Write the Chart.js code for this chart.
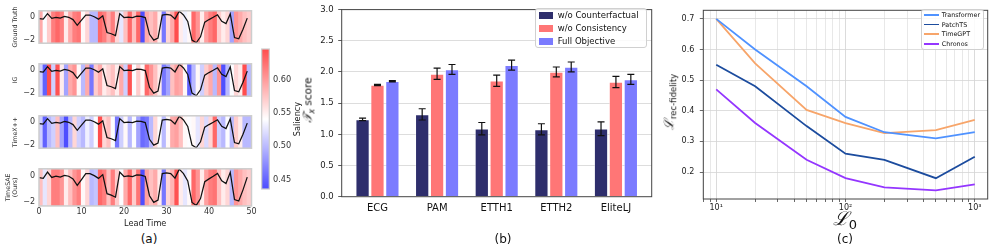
<!DOCTYPE html>
<html><head><meta charset="utf-8">
<script src="https://cdn.jsdelivr.net/npm/chart.js@4.4.1/dist/chart.umd.min.js"></script>
<style>
body{margin:0;width:996px;height:246px;background:#fff;position:relative;overflow:hidden;font-family:'DejaVu Sans',sans-serif}
canvas{position:absolute;display:block}
.t{position:absolute;white-space:nowrap;color:#111;line-height:1}
.rot{transform:translate(-50%,-50%) rotate(-90deg)}
.ctr{transform:translate(-50%,-50%)}
.leg{position:absolute;background:rgba(255,255,255,0.85);border:1px solid #d0d0d0;border-radius:3px;box-sizing:border-box}
.sw{position:absolute}
</style></head><body>
<script>
// ---------- Panel (a) data ----------
const leadTime = [0,1,2,3,4,5,6,7,8,9,10,11,12,13,14,15,16,17,18,19,20,21,22,23,24,25,26,27,28,29,30,31,32,33,34,35,36,37,38,39,40,41,42,43,44,45,46,47,48,49];
const leadTicks = [0,10,20,30,40,50];
const series = [-0.11,-0.16,0.32,-0.09,0.0,-0.07,0.07,0.0,-0.2,-0.7,
 -0.25,0.2,0.2,0.05,-0.16,0.13,-1.33,-1.44,-1.6,0.32,
 -0.02,0.02,-0.02,0.11,0.09,-0.02,-1.49,-2.0,-1.82,0.2,
 0.25,0.2,-0.14,0.54,0.2,-0.36,-2.0,-2.23,-1.71,-0.42,
 -0.2,0.0,0.22,-0.35,-0.55,0.3,-1.78,-1.89,-1.04,-0.07];
const salGroundTruth = [0.591,0.539,0.571,0.617,0.630,0.617,0.552,0.591,0.617,0.623,
 0.545,0.565,0.500,0.500,0.630,0.617,0.591,0.617,0.565,0.526,
 0.578,0.630,0.578,0.630,0.437,0.591,0.578,0.591,0.552,0.461,
 0.565,0.591,0.649,0.552,0.532,0.545,0.630,0.604,0.552,0.597,
 0.617,0.630,0.571,0.552,0.565,0.487,0.604,0.591,0.578,0.571];
const salIG = [0.513,0.448,0.656,0.513,0.643,0.552,0.487,0.591,0.604,0.545,
 0.500,0.591,0.461,0.571,0.591,0.552,0.565,0.578,0.552,0.591,
 0.513,0.643,0.539,0.571,0.545,0.630,0.604,0.578,0.552,0.461,
 0.487,0.578,0.597,0.591,0.545,0.448,0.500,0.545,0.513,0.571,
 0.591,0.500,0.604,0.438,0.500,0.539,0.565,0.552,0.649,0.500];
const salTimeXpp = [0.513,0.448,0.500,0.513,0.578,0.487,0.437,0.500,0.565,0.513,
 0.500,0.532,0.513,0.539,0.646,0.565,0.578,0.539,0.461,0.513,
 0.545,0.500,0.539,0.487,0.454,0.461,0.500,0.565,0.539,0.500,
 0.545,0.591,0.597,0.578,0.545,0.539,0.545,0.526,0.565,0.519,
 0.565,0.630,0.513,0.500,0.539,0.500,0.571,0.552,0.500,0.500];
const salTimeSAE = [0.578,0.526,0.565,0.617,0.617,0.604,0.552,0.578,0.604,0.617,
 0.545,0.565,0.500,0.506,0.630,0.617,0.578,0.617,0.571,0.539,
 0.591,0.630,0.571,0.623,0.437,0.597,0.578,0.591,0.552,0.461,
 0.565,0.584,0.643,0.552,0.526,0.545,0.630,0.604,0.552,0.597,
 0.617,0.623,0.578,0.552,0.565,0.500,0.604,0.591,0.578,0.571];
const rowLabels = ['Ground Truth','IG','TimeX++',['TimeSAE','(Ours)']];
const cbTicks = [0.45,0.50,0.55,0.60];

// ---------- Panel (b) data ----------
const datasetsB = ['ECG','PAM','ETTH1','ETTH2','EliteLJ'];
const seriesNamesB = ['w/o Counterfactual','w/o Consistency','Full Objective'];
const woCounterfactual = [1.24,1.32,1.09,1.08,1.09];
const woCounterfactualErr = [0.02,0.09,0.10,0.09,0.11];
const woConsistency = [1.79,1.97,1.86,2.00,1.84];
const woConsistencyErr = [0.01,0.09,0.09,0.08,0.09];
const fullObjective = [1.85,2.04,2.11,2.08,1.88];
const fullObjectiveErr = [0.01,0.08,0.08,0.08,0.08];
const yTicksB = [0,0.5,1.0,1.5,2.0,2.5,3.0];

// ---------- Panel (c) data ----------
const l0 = [10,20,50,100,200,500,1000];
const modelNames = ['Transformer','PatchTS','TimeGPT','Chronos'];
const transformer = [0.70,0.60,0.48,0.38,0.33,0.31,0.33];
const patchTS = [0.55,0.48,0.35,0.26,0.24,0.18,0.25];
const timeGPT = [0.70,0.555,0.403,0.36,0.327,0.337,0.37];
const chronos = [0.47,0.36,0.24,0.18,0.15,0.14,0.16];
const l0Ticks = [8,9,10,20,30,40,50,60,70,80,90,100,200,300,400,500,600,700,800,900,1000];
const l0TickLabels = {10:'10\u00b9',100:'10\u00b2',1000:'10\u00b3'};
const yTicksC = [0.2,0.3,0.4,0.5,0.6,0.7];

Chart.defaults.font.family = "'DejaVu Sans', sans-serif";
Chart.defaults.animation = false;
Chart.defaults.responsive = false;
Chart.defaults.plugins.legend.display = false;
Chart.defaults.plugins.tooltip.enabled = false;

const VMIN = 0.436, VMAX = 0.646, ALPHA = 0.7;
function bwr(v){
  let n = (v-VMIN)/(VMAX-VMIN); n = Math.max(0, Math.min(1, n));
  let r,g,b;
  if (n < 0.5){ const f = n/0.5; r=f; g=f; b=1; } else { const f=(n-0.5)/0.5; r=1; g=1-f; b=1-f; }
  const mix = c => Math.round(255*(1-ALPHA) + 255*c*ALPHA);
  return `rgb(${mix(r)},${mix(g)},${mix(b)})`;
}
const framePlugin = {
  id:'frame',
  afterDraw(chart, args, o){
    const {ctx, chartArea:a} = chart;
    ctx.save(); ctx.strokeStyle = o.color || '#333'; ctx.lineWidth = o.width || 1;
    ctx.strokeRect(a.left, a.top, a.right-a.left, a.bottom-a.top); ctx.restore();
  }
};
function mk(left, top, w, h){
  const c = document.createElement('canvas'); c.width = w; c.height = h;
  c.style.left = left+'px'; c.style.top = top+'px'; c.style.width = w+'px'; c.style.height = h+'px';
  document.body.appendChild(c); return c;
}
function txt(html, x, y, cls, style){
  const d = document.createElement('div'); d.className = 't '+cls; d.innerHTML = html;
  d.style.left = x+'px'; d.style.top = y+'px'; d.style.cssText += style||''; document.body.appendChild(d); return d;
}

// ---------- Panel (a) ----------
const salRows = [salGroundTruth, salIG, salTimeXpp, salTimeSAE];
const Y_LO = -2.27, Y_HI = 0.57;
salRows.forEach((sal, i) => {
  const T = 5.7 + 52.55*i, H = 42.6;
  const cTop = Math.floor(T) - 3, padTop = T - cTop;
  const last = i === 3;
  const cH = last ? 69 : 50;
  const twoLine = Array.isArray(rowLabels[i]);
  new Chart(mk(0, cTop, 260, cH), {
    type:'bar',
    data:{datasets:[
      {type:'line', data: leadTime.map((t,k)=>({x:t, y:series[k]})), borderColor:'#111', borderWidth:1.25, pointRadius:0, tension:0, order:0},
      {type:'bar', data: leadTime.map(t=>({x:t+0.5, y:[Y_LO, Y_HI]})), backgroundColor: sal.map(bwr),
       barThickness:'flex', barPercentage:1, categoryPercentage:1, borderWidth:0, inflateAmount:0.6, order:1}
    ]},
    options:{
      layout:{padding:{left:0, top:padTop, right:8.5, bottom: last ? 0 : (cH-padTop-H)}},
      scales:{
        x:{type:'linear', display:last, min:0, max:50, offset:false,
           afterBuildTicks:s=>{ s.ticks = leadTicks.map(v=>({value:v})); },
           afterFit:s=>{ s.height = cH-padTop-H; },
           ticks:{font:{size:8}, color:'#333', padding:1, maxRotation:0, autoSkip:false},
           grid:{display:false, drawTicks:false}, border:{display:false},
           title:{display:true, text:'Lead Time', font:{size:8.2}, color:'#222', padding:{top:0,bottom:0.2}}},
        y:{min:Y_LO, max:Y_HI, z:1,
           afterBuildTicks:s=>{ s.ticks = [{value:-2},{value:0}]; },
           afterFit:s=>{ s.width = 39; },
           ticks:{font:{size:8}, color:'#333', padding:4, callback:v => v<0 ? '\u2212'+Math.abs(v) : String(v)},
           grid:{color:'rgba(0,0,0,0.13)', drawTicks:false, lineWidth:1}, border:{display:false},
           title:{display:true, text:rowLabels[i], font:{size:6.3}, color:'#333', padding:{top: twoLine ? 4.5 : 11.9, bottom:0}}}
      },
      plugins:{frame:{color:'#cdcdcd', width:1.5}}
    },
    plugins:[framePlugin]
  });
});
// colorbar
new Chart(mk(255, 40, 45, 160), {
  type:'bar',
  data:{labels:[''], datasets:[{data:[[VMIN, VMAX]], barPercentage:1, categoryPercentage:1, borderWidth:0,
    backgroundColor:(c)=>{ const ch=c.chart; if(!ch.chartArea) return '#fff'; const y=ch.scales.y;
      const g=ch.ctx.createLinearGradient(0,y.getPixelForValue(VMIN),0,y.getPixelForValue(VMAX));
      for(let k=0;k<=20;k++){ g.addColorStop(k/20, bwr(VMIN+(VMAX-VMIN)*k/20)); } return g; }}]},
  options:{
    layout:{padding:{left:6.7, top:9, right:0, bottom:11}},
    scales:{
      x:{display:false, offset:true},
      y:{position:'right', min:VMIN, max:VMAX,
         afterBuildTicks:s=>{ s.ticks = cbTicks.map(v=>({value:v})); },
         afterFit:s=>{ s.width = 30.7; },
         ticks:{font:{size:8.2}, color:'#333', padding:3.7, callback:v=>v.toFixed(2)},
         grid:{display:false, drawTicks:false}, border:{display:false}}
    },
    plugins:{frame:{color:'#cdcdcd', width:1.2}}
  },
  plugins:[framePlugin]
});
txt('Saliency', 297, 119, 'rot', 'font-size:8.2px;color:#222');
txt('(a)', 149, 239, 'ctr', 'font-size:12px');

// ---------- Panel (b) ----------
const colorsB = ['#2e2e6c','#ff7676','#7b7bff'];
const valsB = [woCounterfactual, woConsistency, fullObjective];
const errsB = [woCounterfactualErr, woConsistencyErr, fullObjectiveErr];
const errPlugin = {
  id:'errbars',
  afterDatasetsDraw(chart){
    const {ctx, scales:{y}} = chart; ctx.save(); ctx.strokeStyle='#111'; ctx.lineWidth=1.2;
    chart.data.datasets.forEach((ds,d)=>{
      chart.getDatasetMeta(d).data.forEach((el,k)=>{
        const v = ds.data[k].y, e = ds.errors[k];
        const y1 = y.getPixelForValue(v-e), y2 = y.getPixelForValue(v+e);
        ctx.beginPath();
        ctx.moveTo(el.x,y1); ctx.lineTo(el.x,y2);
        ctx.moveTo(el.x-3.5,y1); ctx.lineTo(el.x+3.5,y1);
        ctx.moveTo(el.x-3.5,y2); ctx.lineTo(el.x+3.5,y2);
        ctx.stroke();
      });
    });
    ctx.restore();
  }
};
new Chart(mk(300, 0, 360, 246), {
  type:'bar',
  data:{datasets: seriesNamesB.map((name,d)=>({
    label:name, data: valsB[d].map((v,k)=>({x:k, y:v})), errors: errsB[d],
    backgroundColor: colorsB[d], borderColor:'rgba(255,255,255,0.55)', borderWidth:0.8,
    categoryPercentage:0.75, barPercentage:0.93 }))},
  options:{
    layout:{padding:{left:0, top:3.3, right:8.3, bottom:0}},
    scales:{
      x:{type:'linear', min:-0.6, max:4.6, offset:false,
         afterBuildTicks:s=>{ s.ticks = datasetsB.map((n,k)=>({value:k})); },
         afterFit:s=>{ s.height = 246-196.7; },
         ticks:{font:{size:10}, color:'#111', padding:2, maxRotation:0, autoSkip:false, callback:v=>datasetsB[v]},
         grid:{display:false, drawTicks:true, tickLength:3.5, tickColor:'#333'}, border:{display:false}},
      y:{min:0, max:3,
         afterBuildTicks:s=>{ s.ticks = yTicksB.map(v=>({value:v})); },
         afterFit:s=>{ s.width = 41.7; },
         ticks:{font:{size:8.5}, color:'#222', padding:4.5, callback:v=>v.toFixed(1)},
         grid:{color:(c)=> (c.tick && (c.tick.value===0 || c.tick.value===3)) ? 'rgba(0,0,0,0)' : '#d4d4d4', borderDash:[3,2], lineWidth:0.8,
               drawTicks:true, tickLength:3.5, tickColor:'#333', tickBorderDash:[]},
         border:{display:false}}
    },
    plugins:{frame:{color:'#444', width:1}}
  },
  plugins:[errPlugin, framePlugin]
});
txt('<span style="font-family:\'DejaVu Serif\',serif;font-style:italic;font-size:12px">\ud835\udcaf</span><sub style="font-size:8px;font-style:italic">x</sub> score', 309, 100, 'rot', 'font-size:10.5px');
txt('(b)', 503, 239, 'ctr', 'font-size:12px');
// legend (b)
(function(){
  const lg = document.createElement('div'); lg.className='leg';
  lg.style.cssText += 'left:535px;top:8.3px;width:112px;height:40px;';
  document.body.appendChild(lg);
  seriesNamesB.forEach((n,d)=>{
    const cy = 15 + 13*d;
    const sw = document.createElement('div'); sw.className='sw';
    sw.style.cssText = `left:539px;top:${cy-3.5}px;width:14px;height:7px;background:${colorsB[d]}`;
    document.body.appendChild(sw);
    txt(n, 557.7, cy, '', 'transform:translateY(-50%);font-size:8.5px');
  });
})();

// ---------- Panel (c) ----------
const colorsC = ['#4f92ff','#1c4c9e','#f7a56a','#9436ff'];
const valsC = [transformer, patchTS, timeGPT, chronos];
new Chart(mk(660, 0, 336, 246), {
  type:'line',
  data:{datasets: modelNames.map((n,d)=>({label:n, data: l0.map((x,k)=>({x, y:valsC[d][k]})),
    borderColor: colorsC[d], borderWidth:1.8, pointRadius:0, tension:0}))},
  options:{
    layout:{padding:{left:0, top:5, right:8.3, bottom:0}},
    scales:{
      x:{type:'logarithmic', min:Math.pow(10,0.9), max:Math.pow(10,3.1),
         afterBuildTicks:s=>{ s.ticks = l0Ticks.map(v=>({value:v, major: !!l0TickLabels[v]})); },
         afterFit:s=>{ s.height = 246-199; },
         ticks:{font:{size:8}, color:'#222', padding:1.5, maxRotation:0, autoSkip:false, callback:v=>l0TickLabels[v]||''},
         grid:{color:(c)=> (c.tick && l0TickLabels[c.tick.value]) ? '#d2d2d2' : '#e2e2e2', lineWidth:0.8,
               drawTicks:true, tickLength:3, tickColor:'#444'},
         border:{display:false}},
      y:{min:0.112, max:0.728,
         afterBuildTicks:s=>{ s.ticks = yTicksC.map(v=>({value:v})); },
         afterFit:s=>{ s.width = 43.3; },
         ticks:{font:{size:8}, color:'#222', padding:5.5, callback:v=>v.toFixed(1)},
         grid:{color:'#d6d6d6', borderDash:[2,2], lineWidth:0.8, drawTicks:true, tickLength:3.5, tickColor:'#444'},
         border:{display:false}}
    },
    plugins:{frame:{color:'#444', width:1}}
  },
  plugins:[framePlugin]
});
txt('<span style="font-family:\'DejaVu Serif\',serif;font-style:italic;font-size:13px">\u2112</span><sub style="font-size:8.5px">rec-fidelity</sub>', 670, 102, 'rot', 'font-size:10px');
txt('<span style="font-family:\'DejaVu Serif\',serif;font-style:italic;font-size:19px">\u2112</span><sub style="font-size:13px">0</sub>', 845, 220, 'ctr', '');
txt('(c)', 845, 239, 'ctr', 'font-size:12px');
// legend (c)
(function(){
  const lg = document.createElement('div'); lg.className='leg';
  lg.style.cssText += 'left:921px;top:9.3px;width:62.5px;height:40.7px;';
  document.body.appendChild(lg);
  modelNames.forEach((n,d)=>{
    const cy = 15 + 9.6*d;
    const sw = document.createElement('div'); sw.className='sw';
    sw.style.cssText = `left:923.5px;top:${cy-0.9}px;width:15px;height:1.8px;background:${colorsC[d]}`;
    document.body.appendChild(sw);
    txt(n, 941.7, cy, '', 'transform:translateY(-50%);font-size:6.4px');
  });
})();
</script>
</body></html>
